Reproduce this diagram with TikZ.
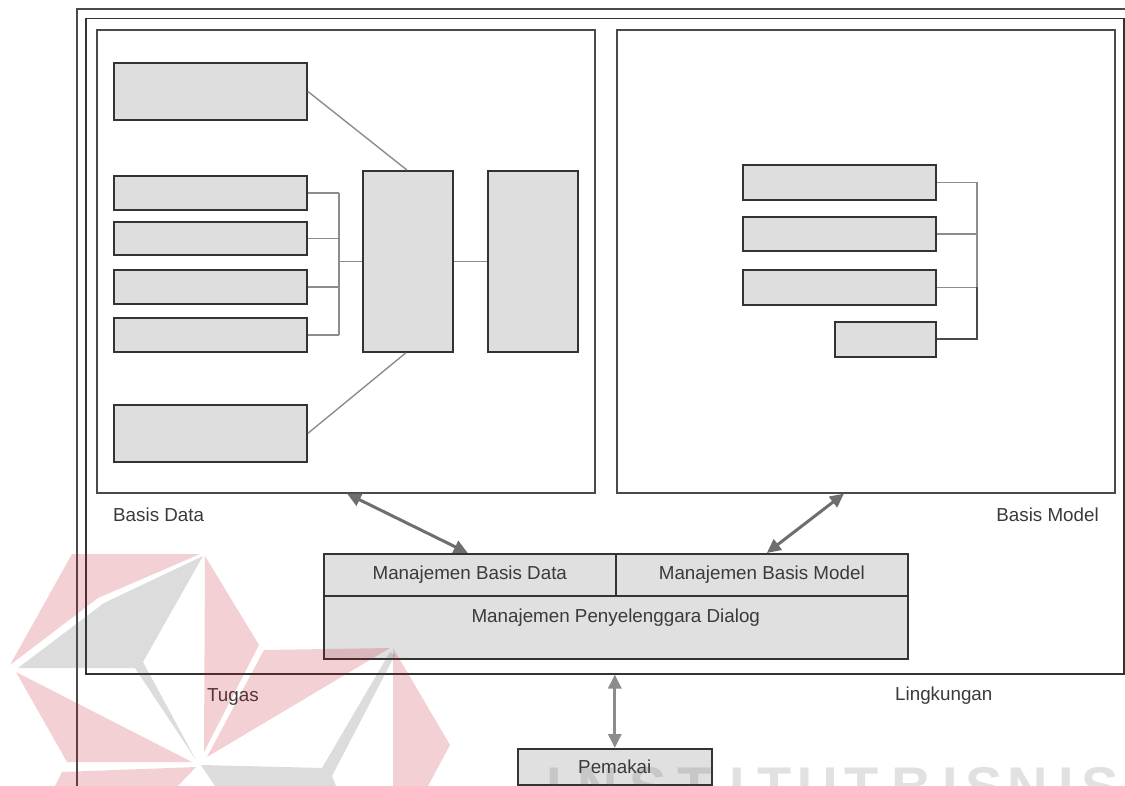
\documentclass[tikz,border=0pt]{standalone}
\usepackage{fontspec}
\setmainfont{Liberation Sans}
\usetikzlibrary{arrows.meta}

\definecolor{boxfill}{HTML}{DEDEDE}
\definecolor{cellfill}{HTML}{E0E0E0}
\definecolor{boxline}{HTML}{333333}
\definecolor{framegray}{HTML}{4A4A4A}
\definecolor{linkgray}{HTML}{8C8C8C}
\definecolor{arrowgray}{HTML}{6E6E6E}
\definecolor{txtgray}{HTML}{3A3A3A}
\definecolor{markred}{RGB}{190,20,40}
\definecolor{markgray}{RGB}{80,80,80}

\begin{document}
\begin{tikzpicture}[x=1pt,y=-1pt,
  frame/.style={draw=framegray, line width=1.6pt, inner sep=0pt, anchor=north west},
  blk/.style={draw=boxline, fill=boxfill, line width=1.8pt, inner sep=0pt, anchor=north west},
  cell/.style={draw=boxline, fill=cellfill, line width=1.6pt, inner sep=0pt, anchor=north west,
    font=\fontsize{18.8pt}{22pt}\selectfont, text=txtgray},
  lbl/.style={inner sep=0pt, font=\fontsize{18.8pt}{22pt}\selectfont, text=txtgray},
  link/.style={draw=linkgray, line width=1.4pt},
  dlink/.style={draw=framegray, line width=1.8pt},
  biarrow/.style={draw=arrowgray, line width=3pt,
    {Triangle[length=14pt,width=13pt]}-{Triangle[length=14pt,width=13pt]}},
  wmred/.style={fill=markred, opacity=0.2},
  wmgray/.style={fill=markgray, opacity=0.2},
  wmtext/.style={anchor=base, inner sep=0pt, text=markgray, text opacity=0.17,
    font=\fontsize{56pt}{60pt}\selectfont\bfseries}
]
\useasboundingbox (0,0) rectangle (1125,786);
\clip (0,0) rectangle (1125,786);

% environment, task and the two bases
\node[frame, minimum width=1100pt, minimum height=830pt] (ling) at (76,8) {};
\node[frame, draw=boxline, line width=1.5pt, minimum width=1038pt, minimum height=655pt] (tugas) at (85,18) {};
\node[frame, minimum width=498pt, minimum height=463pt] (bd) at (96,29) {};
\node[frame, minimum width=498pt, minimum height=463pt] (bm) at (616,29) {};

% data base contents
\node[blk, minimum width=193pt, minimum height=57pt] (d1) at (113,62) {};
\node[blk, minimum width=193pt, minimum height=34pt] (d2) at (113,175) {};
\node[blk, minimum width=193pt, minimum height=33pt] (d3) at (113,221) {};
\node[blk, minimum width=193pt, minimum height=34pt] (d4) at (113,269) {};
\node[blk, minimum width=193pt, minimum height=34pt] (d5) at (113,317) {};
\node[blk, minimum width=193pt, minimum height=57pt] (d6) at (113,404) {};
\node[blk, minimum width=90pt, minimum height=181pt] (mid) at (362,170) {};
\node[blk, minimum width=90pt, minimum height=181pt] (rgt) at (487,170) {};

\coordinate (bx) at (339,0);
\foreach \b in {d2,d3,d4,d5}
  \draw[link] (\b.east) -- (\b.east -| bx);
\draw[link] (d2.east -| bx) -- (d5.east -| bx);
\draw[link] (mid.west -| bx) -- (mid.west);
\draw[link] (mid.east) -- (rgt.west);
\draw[link] (d1.east) -- ([xshift=-1pt]mid.north);
\draw[link] (d6.east) -- ([xshift=-2pt]mid.south);

% model base contents
\node[blk, minimum width=193pt, minimum height=35pt] (m1) at (742,164) {};
\node[blk, minimum width=193pt, minimum height=34pt] (m2) at (742,216) {};
\node[blk, minimum width=193pt, minimum height=35pt] (m3) at (742,269) {};
\node[blk, minimum width=101pt, minimum height=35pt] (m4) at (834,321) {};

\coordinate (mx) at (977,0);
\foreach \b in {m1,m2,m3}
  \draw[link] (\b.east) -- (\b.east -| mx);
\draw[link] (m1.east -| mx) -- (m3.east -| mx);
\draw[dlink] (m3.east -| mx) -- (m4.east -| mx) -- (m4.east);

% dialog management unit
\node[cell, minimum width=292pt, minimum height=42pt] (c1) at (323,553) {Manajemen Basis Data};
\node[cell, minimum width=292pt, minimum height=42pt] (c2) at (615,553) {Manajemen Basis Model};
\node[cell, minimum width=584pt, minimum height=63pt] (c3) at (323,595) {};
\node[lbl, anchor=base] (c3t) at ([yshift=-27pt]c3.north) {Manajemen Penyelenggara Dialog};

% user
\node[cell, minimum width=194pt, minimum height=36pt] (pem) at (517,748) {Pemakai};

% labels
\node[lbl, anchor=base west] (lbd) at (113,521) {Basis Data};
\node[lbl, anchor=base east] (lbm) at (1099,521) {Basis Model};
\node[lbl, anchor=base west] (ltg) at (207,701) {Tugas};
\node[lbl, anchor=base west] (llk) at (895,700) {Lingkungan};

% two-way flows
\draw[biarrow] ([xshift=251pt]bd.south west) -- ([xshift=-2pt]c1.north);
\draw[biarrow] ([xshift=228pt]bm.south west) -- ([xshift=5pt]c2.north);
\draw[biarrow, draw=linkgray] (pem.north |- tugas.south) -- (pem.north);

% institutional mark
\fill[wmred] (72,554) -- (200,554) -- (98,598) -- (10,665) -- cycle;
\fill[wmgray] (203,556) -- (104,603) -- (18,668) -- (135,668) -- (196,760) -- (143,662) -- cycle;
\fill[wmred] (205,556) -- (259,645) -- (204,752) -- cycle;
\fill[wmred] (16,672) -- (192,762) -- (67,762) -- cycle;
\fill[wmred] (62,772) -- (196,767) -- (178,786) -- (55,786) -- cycle;
\fill[wmred] (264,650) -- (390,648) -- (207,757) -- cycle;
\fill[wmgray] (201,765) -- (322,768) -- (390,652) -- (395,655) -- (332,776) -- (336,786) -- (215,786) -- cycle;
\fill[wmred] (393,648) -- (450,745) -- (428,786) -- (393,786) -- cycle;
\foreach \ch/\xc in {I/554,N/598,S/648,T/695,I/737,T/775,U/818,T/862,B/912,I/950,S/984,N/1028,I/1066,S/1100}
  \node[wmtext] at (\xc,806) {\ch};
\end{tikzpicture}
\end{document}
